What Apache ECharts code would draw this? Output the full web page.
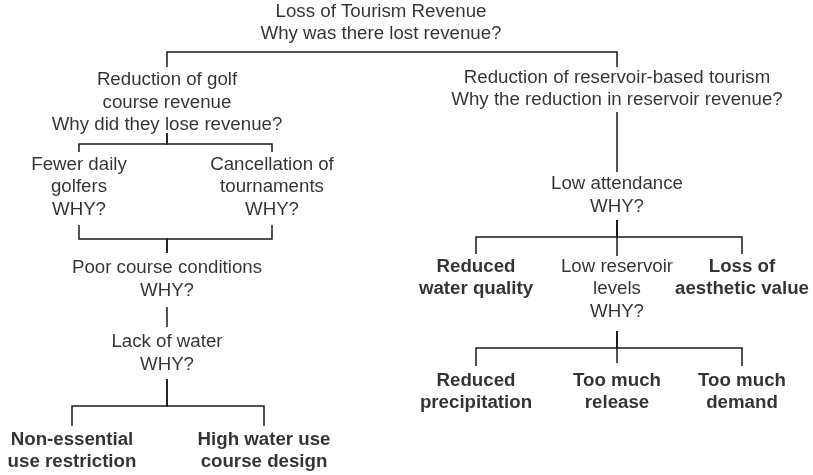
<!DOCTYPE html>
<html>
<head>
<meta charset="utf-8">
<script src="https://cdn.jsdelivr.net/npm/echarts@6/dist/echarts.min.js"></script>
<style>
  html, body { margin: 0; padding: 0; background: #fff; }
  #chart { width: 813px; height: 475px; }
</style>
</head>
<body>
<div id="chart"></div>
<script>
// node labels, positions (x, centre y of the text block) and weight
const nodeNames = [
  "Loss of Tourism Revenue\nWhy was there lost revenue?",
  "Reduction of golf\ncourse revenue\nWhy did they lose revenue?",
  "Fewer daily\ngolfers\nWHY?",
  "Cancellation of\ntournaments\nWHY?",
  "Poor course conditions\nWHY?",
  "Lack of water\nWHY?",
  "Non-essential\nuse restriction",
  "High water use\ncourse design",
  "Reduction of reservoir-based tourism\nWhy the reduction in reservoir revenue?",
  "Low attendance\nWHY?",
  "Reduced\nwater quality",
  "Low reservoir\nlevels\nWHY?",
  "Loss of\naesthetic value",
  "Reduced\nprecipitation",
  "Too much\nrelease",
  "Too much\ndemand"
];
const nodeX = [381, 167, 79, 272, 167, 167, 72, 264, 617, 617, 476, 617, 742, 476, 617, 742];
const nodeY = [23, 102.5, 187, 187, 279.5, 353.5, 451, 451, 89, 195.5, 278, 289, 278, 392, 392, 392];
const nodeBold = [0, 0, 0, 0, 0, 0, 1, 1, 0, 0, 1, 0, 1, 1, 1, 1];

// elbow connectors: [x from, y from, y of bar, x to, y to]
const edges = [
  [381, 52, 52, 167, 67],
  [381, 52, 52, 617, 67],
  [167, 133, 144, 79, 152],
  [167, 133, 144, 272, 152],
  [79, 225, 239, 167, 253],
  [272, 225, 239, 167, 253],
  [167, 307, 307, 167, 327],
  [167, 379, 406, 72, 426],
  [167, 379, 406, 264, 426],
  [617, 112, 112, 617, 172],
  [617, 220, 237, 476, 254],
  [617, 220, 237, 617, 256],
  [617, 220, 237, 742, 254],
  [617, 331, 348, 476, 366],
  [617, 331, 348, 617, 363],
  [617, 331, 348, 742, 366]
];

const chart = echarts.init(document.getElementById("chart"));

chart.setOption({
  animation: false,
  grid: { left: 0, right: 0, top: 0, bottom: 0 },
  xAxis: { type: "value", min: 0, max: 813, show: false },
  yAxis: { type: "value", min: 0, max: 475, inverse: true, show: false },
  series: [
    {
      type: "lines",
      coordinateSystem: "cartesian2d",
      polyline: true,
      silent: true,
      lineStyle: { color: "#1a1a1a", width: 1.5, opacity: 1 },
      data: edges.map(e => ({
        coords: [[e[0], e[1]], [e[0], e[2]], [e[3], e[2]], [e[3], e[4]]]
      }))
    },
    {
      type: "scatter",
      symbolSize: 0,
      silent: true,
      itemStyle: { color: "#000" },
      label: {
        show: true,
        position: "inside",
        color: "#000",
        textBorderWidth: 0,
        fontFamily: "Liberation Sans, Arial, sans-serif",
        fontSize: 18.7,
        lineHeight: 22.5,
        align: "center",
        verticalAlign: "middle",
        formatter: p => nodeNames[p.dataIndex]
      },
      data: nodeX.map((x, i) => ({
        value: [x, nodeY[i]],
        label: { fontWeight: nodeBold[i] ? "bold" : "normal" }
      }))
    }
  ]
});
</script>
</body>
</html>
